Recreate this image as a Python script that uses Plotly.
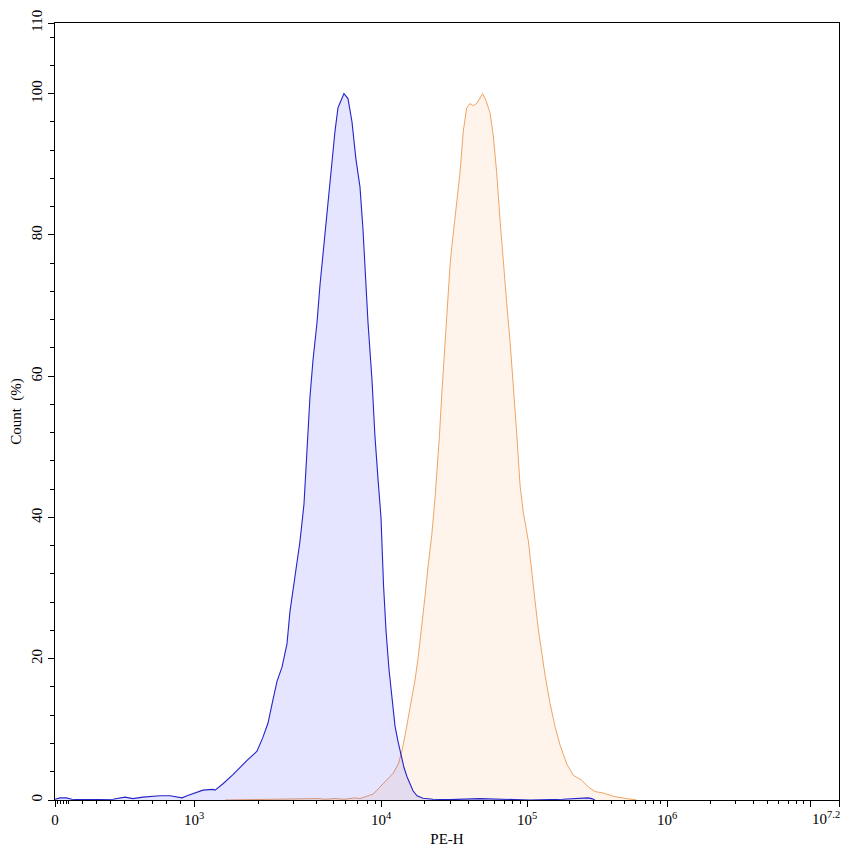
import numpy as np
import plotly.graph_objects as go

# PE-H histogram, two samples, counts as % of mode
BLUE_PEH = [0, 36, 79, 122, 180, 324, 417, 504, 561, 633, 755, 827, 914, 950,
            1011, 1102, 1228, 1256, 1369, 1525, 1776, 1978, 2119, 2246, 2379,
            2492, 2641, 2798, 2897, 3075, 3273, 3442, 3574, 3710, 3853, 4053,
            4215, 4502, 4684, 4935, 5155, 5395, 5732, 5907, 6235, 6564, 6907,
            7284, 7582, 7788, 8119, 8609, 8995, 9484, 10000, 10402, 10820,
            11343, 11893, 12469, 13073, 13709, 14371, 15073, 15797, 16565,
            17645, 19399, 22710, 29700, 47640, 65310, 105000, 180000, 272700,
            290000, 305900]
BLUE_COUNT = [0.1, 0.3, 0.3, 0.1, 0.05, 0.1, 0.1, 0.4, 0.2, 0.4, 0.6, 0.6, 0.3, 0.6,
              1.0, 1.4, 1.5, 1.4, 2.3, 3.6, 5.6, 6.9, 8.9, 10.9, 14.2,
              16.8, 18.8, 22.1, 26.7, 32.0, 36.6, 41.9, 49.2, 57.1, 62.3, 67.6,
              72.9, 80.2, 84.8, 90.1, 94.7, 98.0, 99.3, 100, 99.3, 96.0, 90.7,
              86.8, 80.8, 74.9, 67.6, 59.5, 51.5, 45.5, 40.0, 30.5, 24.0,
              18.5, 14.0, 10.5, 8.3, 6.2, 4.6, 3.3, 2.2, 1.3,
              0.6, 0.25, 0.1, 0.05, 0.2, 0.1, 0.0, 0.1, 0.3,
              0.2, 0.0]

ORANGE_PEH = [1399, 1830, 3075, 4106, 4500, 5155, 5900, 6820, 7284, 8774, 9825,
              10940, 12140, 13140, 13860, 14600, 15380, 16230, 17100, 18010,
              19000, 20010, 21090, 22250, 23440, 24300, 25080, 26040, 27010,
              27870, 28910, 29690, 30500, 32130, 33530, 34760, 36610, 38640,
              40700, 42880, 45240, 47650, 49730, 52390, 55790, 58770, 62000,
              65330, 68820, 72610, 76480, 80580, 85030, 89590, 94340, 102200,
              108000, 114100, 120400, 127400, 134500, 146000, 158500, 172100,
              192100, 214100, 245900, 274100, 305900, 350800, 413500, 515300,
              607700]
ORANGE_COUNT = [0.0, 0.05, 0.05, 0.2, 0.1, 0.2, 0.1, 0.3, 0.2, 0.85, 1.84,
                2.83, 3.8, 5.1, 6.8, 9.1, 11.7, 14.4, 17.0, 20.3,
                24.2, 28.8, 33.4, 37.4, 42.7, 46.6, 51.2, 57.2, 62.4,
                67.0, 72.3, 75.6, 78.2, 82.2, 85.5, 88.8, 94.7, 98.0,
                98.6, 98.3, 98.6, 99.3, 100, 99.0, 97.3, 94.0, 88.8,
                82.2, 75.6, 70.3, 65.0, 59.1, 51.9, 44.6, 40.7, 36.7,
                32.8, 28.2, 24.2, 20.9, 17.7, 13.7, 10.4, 7.8,
                5.1, 3.5, 2.8, 1.84, 1.19, 0.99, 0.52, 0.2,
                0.0]

# display scale of the cytometer axis: linear up to 1000, then log-like
LIN_TOP = 1000
SCALE_VALS = [1e3, 2e3, 3e3, 4e3, 5e3, 6e3, 7e3, 8e3, 9e3, 1e4, 1e5, 1e6, 10 ** 7.2]
SCALE_POS = [139, 203, 238, 261, 278, 290, 302, 312, 320, 326, 472, 612, 784]
X_MAX = 10 ** 7.2


def to_axis(v):
    v = np.asarray(v, dtype=float)
    lin = v / LIN_TOP * SCALE_POS[0]
    lg = np.interp(np.log10(np.maximum(v, LIN_TOP)), np.log10(SCALE_VALS), SCALE_POS)
    return np.where(v <= LIN_TOP, lin, lg)


major_vals = [0, 1e3, 1e4, 1e5, 1e6, 1e7, X_MAX]
major_text = ['0', '10<sup>3</sup>', '10<sup>4</sup>', '10<sup>5</sup>',
              '10<sup>6</sup>', ' ', ' ']
minor_vals = [20, 40, 60, 80, 100] + [m * 100 for m in range(2, 10)]
for dec in [1e3, 1e4, 1e5, 1e6]:
    minor_vals += [m * dec for m in range(2, 10)]

fig = go.Figure()

fig.add_trace(go.Scatter(
    x=to_axis(ORANGE_PEH), y=ORANGE_COUNT, mode='lines', fill='tozeroy',
    line=dict(color='#f0a464', width=1), fillcolor='rgba(240,130,40,0.085)',
    showlegend=False))
fig.add_trace(go.Scatter(
    x=to_axis(BLUE_PEH), y=BLUE_COUNT, mode='lines', fill='tozeroy',
    line=dict(color='#2424c8', width=1.1), fillcolor='rgba(0,0,255,0.1)',
    showlegend=False))

font = 'Liberation Serif, Times New Roman, serif'
# page body has an 8px margin, so the figure is 8px smaller than the window
fig.update_layout(
    width=845, height=848,
    margin=dict(l=47, r=14, t=15, b=56),
    paper_bgcolor='white', plot_bgcolor='white',
    font=dict(family=font, size=15, color='black'),
)
fig.update_xaxes(
    range=[0, 784], tickmode='array',
    tickvals=to_axis(major_vals), ticktext=major_text,
    ticks='outside', ticklen=6, tickcolor='black',
    showline=True, linecolor='black', linewidth=1, mirror=True,
    showgrid=False, zeroline=False,
    minor=dict(tickmode='array', tickvals=to_axis(minor_vals), ticks='outside',
               ticklen=3, tickcolor='black', showgrid=False),
    title=dict(text='PE-H', font=dict(size=15), standoff=6),
    automargin=False,
)
fig.update_yaxes(
    range=[0, 110], tickmode='array',
    tickvals=[0, 20, 40, 60, 80, 100, 110],
    tickangle=-90, ticks='outside', ticklen=6, tickcolor='black',
    showline=True, linecolor='black', linewidth=1, mirror=True,
    showgrid=False, zeroline=False,
    minor=dict(tick0=0, dtick=4, ticks='outside', ticklen=4,
               tickcolor='black', showgrid=False),
    title=dict(text='Count  (%)', font=dict(size=15), standoff=6),
    automargin=False,
)

# last tick label sits at the right edge, so it is right-aligned to stay visible
fig.add_annotation(
    x=float(to_axis(X_MAX)), y=0, xref='x', yref='paper',
    text='10<sup>7.2</sup>', showarrow=False,
    xanchor='right', yanchor='top', xshift=3, yshift=-7,
    font=dict(family=font, size=15, color='black'),
)

fig.write_html('out.html')
